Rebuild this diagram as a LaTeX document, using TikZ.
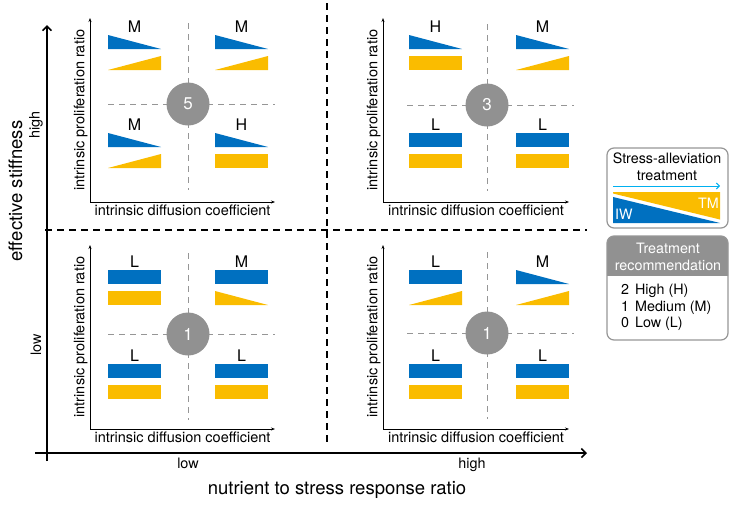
\documentclass[tikz,border=0pt]{standalone}
\usepackage{fontspec}
\setmainfont{TeX Gyre Heros}
\usepackage{tikz}
\usetikzlibrary{positioning,arrows.meta}
\definecolor{iwblue}{RGB}{0,112,192}
\definecolor{tmyellow}{RGB}{250,188,0}
\definecolor{scoregray}{RGB}{145,145,145}
\definecolor{linegray}{RGB}{150,150,150}
\definecolor{arrowblue}{RGB}{0,176,240}

\begin{document}
\begin{tikzpicture}[x=1pt, y=-1pt,
  mainaxis/.style={line width=1.6pt, -{Straight Barb[length=4.5pt,width=9pt]}},
  splitline/.style={line width=1.3pt, dash pattern=on 7pt off 5pt},
  subaxis/.style={line width=0.8pt, {Stealth[length=4pt,width=3pt]}-{Stealth[length=4pt,width=3pt]}},
  quadline/.style={linegray, line width=0.9pt, dash pattern=on 6pt off 5pt},
  sublabel/.style={font=\fontsize{14.5}{16}\selectfont, inner sep=2pt},
  axistitle/.style={font=\fontsize{18.5}{20}\selectfont, anchor=base},
  ticklabel/.style={font=\fontsize{14.4}{16}\selectfont},
  grade/.style={font=\fontsize{16}{18}\selectfont, inner sep=0pt},
  score/.style={circle, fill=scoregray, text=white, minimum size=43pt, inner sep=0pt, font=\fontsize{17}{19}\selectfont},
  legendbox/.style={draw=linegray, line width=1.2pt, rounded corners=7pt},
  legendtext/.style={font=\fontsize{14.3}{16.5}\selectfont, align=center}
]
  \useasboundingbox (0,0) rectangle (733,504);

  % Axes principaux
  \coordinate (vbot) at (47,461);
  \coordinate (vtop) at (47,25);
  \coordinate (hleft) at (35,453);
  \coordinate (hright) at (587,453);
  \draw[mainaxis] (vbot) -- (vtop);
  \draw[mainaxis] (hleft) -- (hright);

  % Separations des quadrants
  \coordinate (dvt) at (327,3);
  \coordinate (dvb) at (327,443);
  \coordinate (dhl) at (45,230);
  \coordinate (dhr) at (587,230);
  \draw[splitline] (dvt) -- (dvb);
  \draw[splitline] (dhl) -- (dhr);

  \node[axistitle, rotate=90] (stiff) at (22,191) {effective stiffness};
  \node[ticklabel, rotate=90] (shigh) at (36,125) {high};
  \node[ticklabel, rotate=90] (slow) at (36,345) {low};
  \node[ticklabel, anchor=base] (nlow) at (188,468) {low};
  \node[ticklabel, anchor=base] (nhigh) at (472,468) {high};
  \node[axistitle] (ratio) at (337,494) {nutrient to stress response ratio};

  % Sous-graphes
  \foreach \q/\ox/\oy/\xe/\cx/\cy/\num in {tl/90/202/275/188/104/5, tr/383/202/569/487/105/3,
                                          bl/90/429/275/188/334/1, br/383/429/569/487/333/1} {
    \coordinate (\q o) at (\ox,\oy);
    \coordinate (\q y) at (\ox,\oy-184);
    \coordinate (\q x) at (\xe,\oy);
    \draw[subaxis] (\q y) -- node[sublabel, rotate=90, above] (\q yl) {intrinsic proliferation ratio} (\q o)
                          -- node[sublabel, below] (\q xl) {intrinsic diffusion coefficient} (\q x);
    \draw[quadline] (\cx,\cy-81) -- (\cx,\cy+86);
    \draw[quadline] (\cx-80,\cy) -- (\cx+87,\cy);
    \node[score] (\q n) at (\cx,\cy) {\num};
  }

  % Barres IW / TM (hauteur gauche / droite)
  \foreach \x/\y/\lab/\bl/\br/\yl/\yr in {
      108/35/M/14/0/0/14, 215/35/M/14/0/0/14, 108/133/M/14/0/0/14, 215/133/H/14/0/14/14,
      409/35/H/14/0/14/14, 516/35/M/14/0/0/14, 409/133/L/14/14/14/14, 516/133/L/14/14/14/14,
      108/270/L/14/14/14/14, 215/270/M/14/14/14/0, 108/364/L/14/14/14/14, 215/364/L/14/14/14/14,
      409/270/L/14/14/0/14, 516/270/M/14/0/0/14, 409/364/L/14/14/14/14, 516/364/L/14/14/14/14} {
    \node[grade] (g\x-\y) at (\x+26.5,\y-8) {\lab};
    \fill[iwblue] (\x,\y+14) -- ++(0,-\bl) -- (\x+53,\y+14-\br) -- (\x+53,\y+14) -- cycle;
    \fill[tmyellow] (\x,\y+35) -- ++(0,-\yl) -- (\x+53,\y+35-\yr) -- (\x+53,\y+35) -- cycle;
  }

  % Legende : traitement
  \draw[legendbox] (607,148) rectangle (728,228);
  \node[legendtext] (treat) at (667,167) {Stress-alleviation\\treatment};
  \coordinate (tstart) at (613,186);
  \coordinate (tend) at (720,186);
  \draw[arrowblue, line width=1pt, -{Straight Barb[length=3pt,width=6pt]}] (tstart) -- (tend);
  \fill[tmyellow] (613,192) -- (720,192) -- (720,219.5) -- (613,193.5) -- cycle;
  \fill[iwblue] (613,197) -- (720,223) -- (613,223) -- cycle;
  \node[legendtext, text=white, anchor=west, inner sep=0pt] (iw) at (615,214) {IW};
  \node[legendtext, text=white, anchor=east, inner sep=0pt] (tm) at (719,203) {TM};

  % Legende : recommandation
  \begin{scope}
    \clip[rounded corners=7pt] (607,236) rectangle (728,340);
    \fill[scoregray] (600,230) rectangle (735,276);
  \end{scope}
  \draw[legendbox] (607,236) rectangle (728,340);
  \node[legendtext, text=white] (rechead) at (668,257) {Treatment\\recommendation};
  \node[legendtext, anchor=west, inner sep=0pt] (reclist) at (621,308)
    {\begin{tabular}{@{}l@{\hspace{6pt}}l@{}}2 & High (H)\\1 & Medium (M)\\0 & Low (L)\end{tabular}};
\end{tikzpicture}
\end{document}
